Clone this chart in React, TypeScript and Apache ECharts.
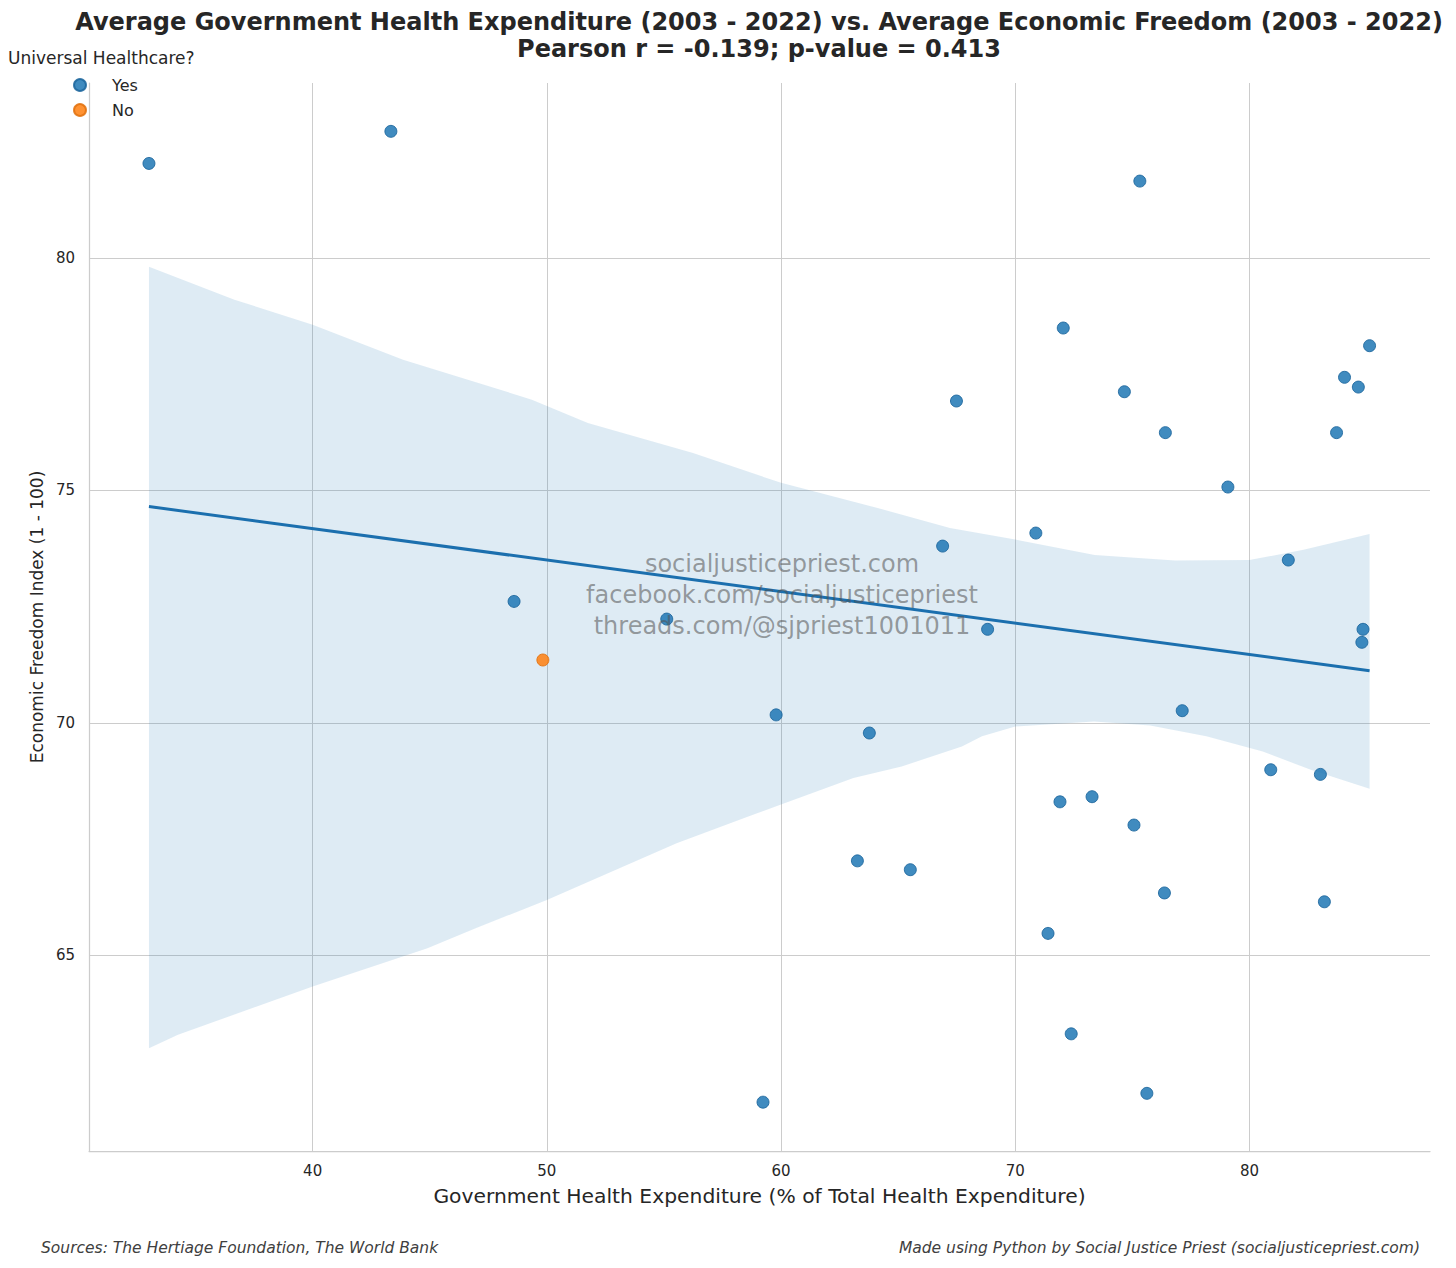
import { useEffect, useRef } from 'react';
import * as echarts from 'echarts';

const FONT = '"DejaVu Sans", sans-serif';

// scatter points
const yesX = [33.01, 43.34, 75.32, 72.05, 85.13, 84.06, 84.65, 74.66, 67.49, 76.41, 83.72, 79.08, 70.88, 66.9, 81.66, 48.6, 55.12, 68.82, 84.85, 84.8, 59.79, 77.13, 63.77, 80.91, 83.03, 71.91, 73.28, 75.07, 63.26, 65.52, 76.37, 83.2, 71.4, 72.39, 75.62, 59.23];
const yesY = [82.03, 82.72, 81.65, 78.49, 78.11, 77.43, 77.22, 77.12, 76.92, 76.24, 76.24, 75.07, 74.08, 73.8, 73.5, 72.61, 72.23, 72.01, 72.01, 71.73, 70.17, 70.26, 69.78, 68.99, 68.89, 68.3, 68.41, 67.8, 67.03, 66.84, 66.34, 66.15, 65.47, 63.31, 62.03, 61.84];
const noX = [49.83];
const noY = [71.35];

// regression line end points
const fitX = [33.01, 85.13];
const fitY = [74.65, 71.12];

// confidence band edges
const upperX = [33.01, 36.66, 40, 43.86, 49.36, 51.75, 56.24, 60, 64.12, 67.21, 70, 73.39, 76.82, 80, 82.31, 85.13];
const upperY = [79.81, 79.1, 78.56, 77.81, 76.95, 76.45, 75.8, 75.16, 74.62, 74.19, 73.94, 73.61, 73.49, 73.5, 73.72, 74.06];
const lowerX = [33.01, 34.25, 40, 44.9, 46.96, 50, 55.54, 58.63, 60, 63.09, 65.15, 67.72, 68.58, 70, 73.36, 75.76, 78.16, 80.57, 82.62, 85.13];
const lowerY = [63.0, 63.29, 64.33, 65.15, 65.58, 66.19, 67.41, 67.99, 68.24, 68.81, 69.06, 69.49, 69.71, 69.92, 70.03, 69.94, 69.71, 69.38, 68.99, 68.58];

const xTicks = [40, 50, 60, 70, 80];
const yTicks = [65, 70, 75, 80];

const watermark = ['socialjusticepriest.com', 'facebook.com/socialjusticepriest', 'threads.com/@sjpriest1001011'];

const zip = (xs: number[], ys: number[]) => xs.map((x, i) => [x, ys[i]]);

export default function App() {
  const chartRef = useRef<HTMLDivElement>(null);

  useEffect(() => {
    document.body.style.margin = '0';
    if (!chartRef.current) return;
    const chart = echarts.init(chartRef.current, null, { renderer: 'svg' });

    const option = {
      animation: false,
      backgroundColor: '#ffffff',
      textStyle: { fontFamily: FONT },
      grid: { left: 89, right: 26, top: 83, bottom: 117, containLabel: false },
      legend: {
        orient: 'vertical',
        left: 68,
        top: 70,
        itemWidth: 24,
        itemHeight: 12,
        itemGap: 5,
        icon: 'circle',
        data: ['Yes', 'No'],
        textStyle: { fontFamily: FONT, fontSize: 16, color: '#262626', lineHeight: 20, padding: [0, 0, 0, 15] }
      },
      xAxis: {
        type: 'value',
        min: 30.45,
        max: 87.71,
        name: 'Government Health Expenditure (% of Total Health Expenditure)',
        nameLocation: 'middle',
        nameGap: 35,
        nameTextStyle: { fontFamily: FONT, fontSize: 20.3, color: '#262626' },
        axisLine: { show: true, lineStyle: { color: '#cccccc', width: 1.25 } },
        axisTick: { show: false, customValues: xTicks },
        axisLabel: { customValues: xTicks, color: '#262626', fontSize: 15, margin: 12, fontFamily: FONT },
        splitLine: { show: true, lineStyle: { color: '#cccccc', width: 1 } }
      },
      yAxis: {
        type: 'value',
        min: 60.79,
        max: 83.76,
        name: 'Economic Freedom Index (1 - 100)',
        nameLocation: 'middle',
        nameGap: 40,
        nameTextStyle: { fontFamily: FONT, fontSize: 17, color: '#262626' },
        axisLine: { show: true, lineStyle: { color: '#cccccc', width: 1.25 } },
        axisTick: { show: false, customValues: yTicks },
        axisLabel: { customValues: yTicks, color: '#262626', fontSize: 15, margin: 14, fontFamily: FONT },
        splitLine: { show: true, lineStyle: { color: '#cccccc', width: 1 } }
      },
      series: [
        {
          name: 'band',
          type: 'custom',
          clip: true,
          z: 1,
          silent: true,
          data: [0],
          renderItem: (_params: any, api: any) => {
            const top = upperX.map((x, i) => api.coord([x, upperY[i]]));
            const bottom = lowerX.map((x, i) => api.coord([x, lowerY[i]])).reverse();
            return {
              type: 'polygon',
              shape: { points: top.concat(bottom) },
              style: { fill: 'rgba(31,119,180,0.15)' }
            };
          }
        },
        {
          name: 'fit',
          type: 'line',
          z: 2,
          symbol: 'none',
          data: zip(fitX, fitY),
          lineStyle: { color: '#1b6fae', width: 3 }
        },
        {
          name: 'Yes',
          type: 'scatter',
          z: 3,
          symbolSize: 12,
          data: zip(yesX, yesY),
          itemStyle: { color: '#1f77b4', opacity: 0.85, borderColor: '#1a649b', borderWidth: 1 }
        },
        {
          name: 'No',
          type: 'scatter',
          z: 3,
          symbolSize: 12,
          data: zip(noX, noY),
          itemStyle: { color: '#ff7f0e', opacity: 0.85, borderColor: '#e0700c', borderWidth: 1 }
        }
      ],
      graphic: [
        {
          type: 'text',
          x: 759,
          y: 22,
          style: {
            text: 'Average Government Health Expenditure (2003 - 2022) vs. Average Economic Freedom (2003 - 2022)',
            font: `bold 24px ${FONT}`,
            fill: '#262626',
            textAlign: 'center',
            textVerticalAlign: 'middle'
          }
        },
        {
          type: 'text',
          x: 759,
          y: 49,
          style: {
            text: 'Pearson r = -0.139; p-value = 0.413',
            font: `bold 24px ${FONT}`,
            fill: '#262626',
            textAlign: 'center',
            textVerticalAlign: 'middle'
          }
        },
        {
          type: 'text',
          x: 8,
          y: 58,
          style: {
            text: 'Universal Healthcare?',
            font: `17px ${FONT}`,
            fill: '#262626',
            textAlign: 'left',
            textVerticalAlign: 'middle'
          }
        },
        ...watermark.map((line, i) => ({
          type: 'text',
          x: 782,
          y: 564 + i * 31,
          z: 10,
          style: {
            text: line,
            font: `24px ${FONT}`,
            fill: 'rgba(80,80,80,0.55)',
            textAlign: 'center',
            textVerticalAlign: 'middle'
          }
        })),
        {
          type: 'text',
          x: 41,
          y: 1248,
          style: {
            text: 'Sources: The Hertiage Foundation, The World Bank',
            font: `italic 15.5px ${FONT}`,
            fill: '#404040',
            textAlign: 'left',
            textVerticalAlign: 'middle'
          }
        },
        {
          type: 'text',
          x: 1420,
          y: 1248,
          style: {
            text: 'Made using Python by Social Justice Priest (socialjusticepriest.com)',
            font: `italic 15.5px ${FONT}`,
            fill: '#404040',
            textAlign: 'right',
            textVerticalAlign: 'middle'
          }
        }
      ]
    };

    chart.setOption(option);
    return () => chart.dispose();
  }, []);

  return <div ref={chartRef} style={{ width: 1456, height: 1268 }} />;
}
